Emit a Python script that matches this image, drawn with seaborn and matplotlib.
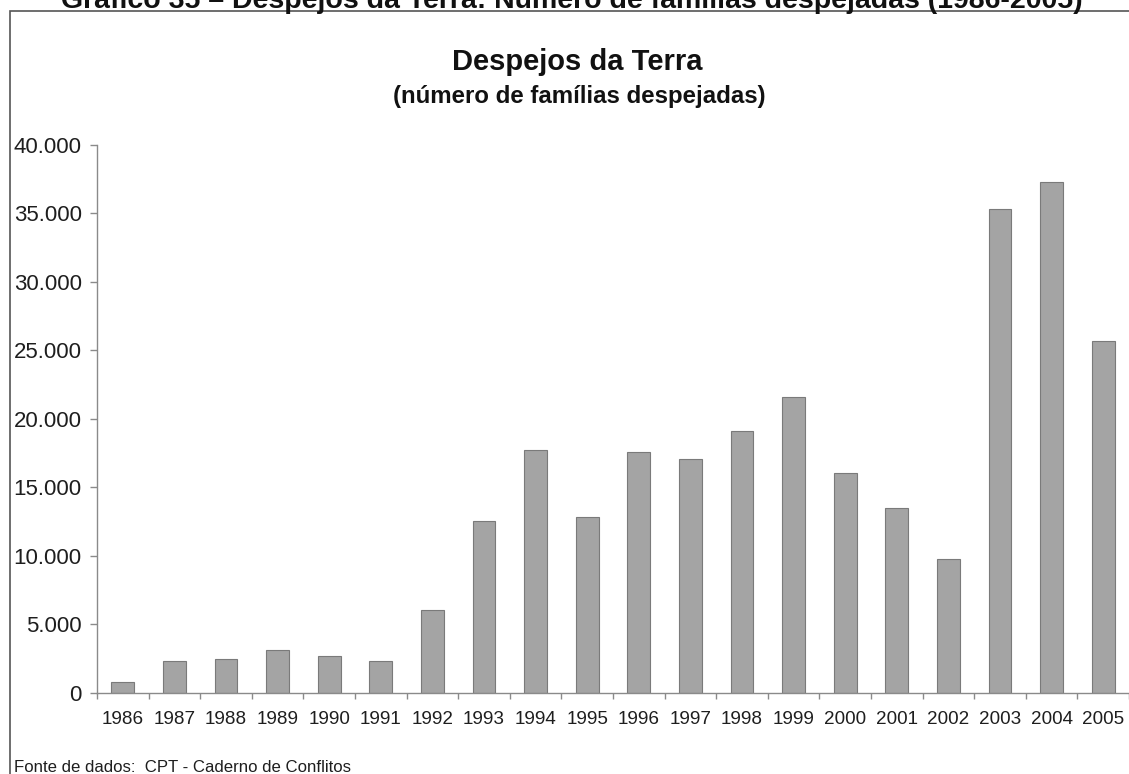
import numpy as np
import pandas as pd
import seaborn as sns
from matplotlib import pyplot as plt
from matplotlib import patches
from matplotlib.ticker import FixedLocator, FuncFormatter

anos = ['1986', '1987', '1988', '1989', '1990', '1991', '1992', '1993', '1994', '1995',
        '1996', '1997', '1998', '1999', '2000', '2001', '2002', '2003', '2004', '2005']
familias = [800, 2340, 2440, 3140, 2660, 2320, 6020, 12530, 17700, 12850,
            17600, 17060, 19130, 21570, 16040, 13480, 9750, 35300, 37270, 25690]
yticks = [0, 5000, 10000, 15000, 20000, 25000, 30000, 35000, 40000]

titulo_topo = 'Gráfico 35 – Despejos da Terra: Número de famílias despejadas (1986-2005)'
titulo = 'Despejos da Terra'
subtitulo = '(número de famílias despejadas)'
fonte = 'Fonte de dados:  CPT - Caderno de Conflitos'

sns.set_theme(style='white')
plt.rcParams['font.family'] = ['Liberation Sans', 'DejaVu Sans']

df = pd.DataFrame({'ano': anos, 'familias': familias})

W, H = 1129, 774
fig = plt.figure(figsize=(W / 100, H / 100), dpi=100)
ax = fig.add_axes([97 / W, 1 - 692.7 / H, 1 - 97 / W, (692.7 - 144.7) / H])

sns.barplot(data=df, x='ano', y='familias', color='#a4a4a4', saturation=1,
            width=0.44, edgecolor='#7a7a7a', linewidth=0.8, ax=ax)

ax.set_xlim(-0.5, len(anos) - 0.5)
ax.set_ylim(0, 40000)
ax.set_xlabel('')
ax.set_ylabel('')

# spines: only left and bottom, in gray
for s in ['top', 'right']:
    ax.spines[s].set_visible(False)
for s in ['left', 'bottom']:
    ax.spines[s].set_color('#8a8a8a')
    ax.spines[s].set_linewidth(1.0)

ax.yaxis.set_major_locator(FixedLocator(yticks))
ax.yaxis.set_major_formatter(FuncFormatter(lambda v, p: f'{int(v):,}'.replace(',', '.')))
ax.tick_params(axis='y', which='major', left=True, length=5, width=1.0, color='#8a8a8a',
               pad=6, labelsize=16, labelcolor='#1e1e1e')

# x: labels at category centres, tick marks between categories
ax.tick_params(axis='x', which='major', bottom=True, length=0, pad=13,
               labelsize=13.6, labelcolor='#1e1e1e')
ax.xaxis.set_minor_locator(FixedLocator(np.arange(-0.5, len(anos), 1.0)))
ax.tick_params(axis='x', which='minor', bottom=True, length=4, width=1.0, color='#8a8a8a')
ax.grid(False)

# outer frame (cut by the image edges)
frame = patches.Rectangle((10 / W, -0.1), 1.2, (H - 11) / H + 0.1, transform=fig.transFigure,
                          fill=False, edgecolor='#555555', linewidth=1.2, clip_on=False)
fig.add_artist(frame)

# header sits partly above the image, as in the scanned page
fig.text(572 / W, 1 - 8 / H, titulo_topo, ha='center', va='baseline',
         fontsize=20.5, fontweight='bold', color='#111111')
fig.text(577 / W, 1 - 70 / H, titulo, ha='center', va='baseline',
         fontsize=21, fontweight='bold', color='#111111')
fig.text(579 / W, 1 - 103 / H, subtitulo, ha='center', va='baseline',
         fontsize=17.3, fontweight='bold', color='#111111')
fig.text(14 / W, 1 - 767 / H, fonte, ha='left', va='center',
         fontsize=12.1, color='#1e1e1e')

plt.savefig('out.png', dpi=100)
